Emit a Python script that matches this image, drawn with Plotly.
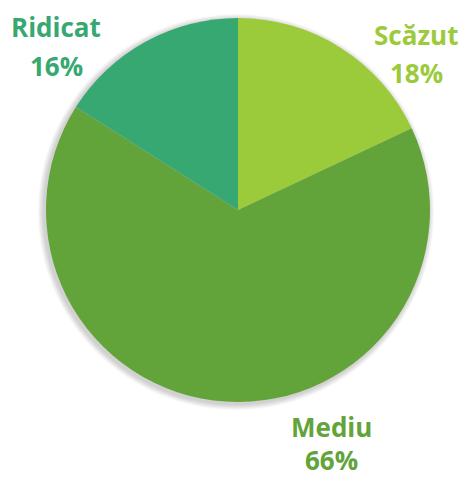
import plotly.graph_objects as go

labels = ["Scăzut", "Mediu", "Ridicat"]
values = [18, 66, 16]
colors = ["#9BCB3B", "#62A43A", "#38A872"]
percent_text = ["18%", "66%", "16%"]

W, H = 461, 480
cx, cy, r = 238, 210, 192


def dom(x0, y0, rad):
    return dict(x=[(x0 - rad) / W, (x0 + rad) / W], y=[1 - (y0 + rad) / H, 1 - (y0 - rad) / H])


fig = go.Figure()
# soft shadow layers
for k in range(6, 0, -1):
    fig.add_trace(go.Pie(
        values=[1], sort=False, marker=dict(colors=["rgba(0,0,0,0.03)"], line=dict(width=0)),
        textinfo="none", hoverinfo="skip", showlegend=False,
        domain=dom(cx - 2, cy + 2, r + k),
    ))

fig.add_trace(go.Pie(
    labels=labels, values=values, sort=False, direction="clockwise", rotation=0,
    marker=dict(colors=colors, line=dict(width=0)),
    textinfo="none", hoverinfo="label+percent", showlegend=False,
    domain=dom(cx, cy, r),
))

# (x, y of name line, y of percent line) in pixels
label_pos = {"Scăzut": (416, 35, 73), "Mediu": (331, 427, 460), "Ridicat": (56, 27, 66)}
for lab, pct, col in zip(labels, percent_text, colors):
    x, y1, y2 = label_pos[lab]
    for txt, yy in ((lab, y1), (pct, y2)):
        fig.add_annotation(
            x=x / W, y=1 - yy / H, xref="paper", yref="paper", showarrow=False,
            xanchor="center", yanchor="middle", borderpad=0,
            text=f"<b>{txt}</b>", align="center",
            font=dict(family="Open Sans", size=26, color=col),
        )

fig.update_layout(width=W, height=H, margin=dict(l=0, r=0, t=0, b=0),
                  paper_bgcolor="white", plot_bgcolor="white")
fig.write_html("out.html", config={"displayModeBar": False},
               post_script="document.body.style.margin='0';")
